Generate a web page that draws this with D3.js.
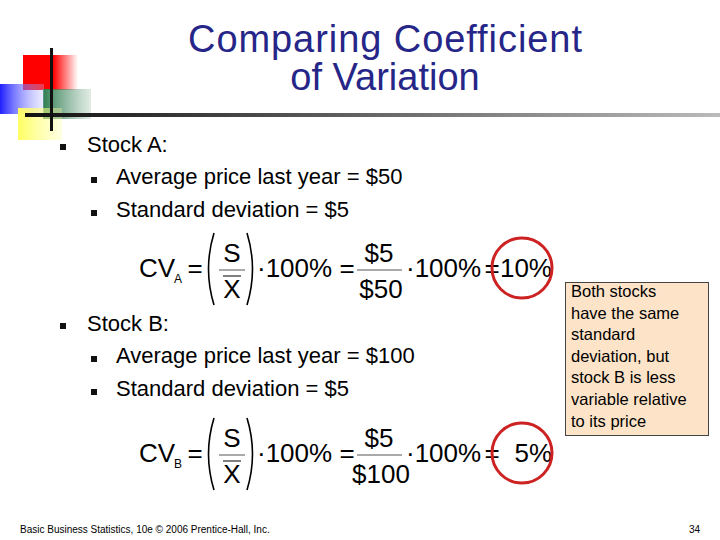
<!DOCTYPE html>
<html><head><meta charset="utf-8">
<script src="https://cdn.jsdelivr.net/npm/d3@7"></script>
<style>body{margin:0;background:#fff}svg{font-family:"Liberation Sans",Arial,sans-serif}</style>
</head><body><div id="slide"></div>
<script>
const W = 720, H = 540;
const titleLines = ["Comparing Coefficient", "of Variation"];
const stocks = ["A", "B"];
const prices = [50, 100];
const stdDevs = [5, 5];
const cvs = stocks.map((s, i) => stdDevs[i] / prices[i] * 100);
const noteLines = ["Both stocks", "have the same", "standard", "deviation, but", "stock B is less", "variable relative", "to its price"];
const footer = "Basic Business Statistics, 10e \u00a9 2006 Prentice-Hall, Inc.";
const pageNum = "34";

const svg = d3.select("#slide").append("svg").attr("width", W).attr("height", H);
const defs = svg.append("defs");
function grad(id, c1, c2, o2, off) {
  const g = defs.append("linearGradient").attr("id", id);
  g.append("stop").attr("offset", off || 0).attr("stop-color", c1);
  g.append("stop").attr("offset", "1").attr("stop-color", c2).attr("stop-opacity", o2);
}
grad("gRed", "#ff0000", "#ff0000", 0, 0.55);
grad("gBlue", "#2020ff", "#c0c0ff", 0.3);
grad("gGreen", "#2e7d50", "#6aa080", 0.2);
grad("gYel", "#ffff60", "#ffffa0", 0.3);
grad("gLine", "#111", "#bbb", 1);

// logo
const logo = svg.append("g");
logo.append("rect").attr("x", 23).attr("y", 55).attr("width", 55).attr("height", 35).attr("fill", "url(#gRed)");
logo.append("rect").attr("x", 43).attr("y", 89).attr("width", 48).attr("height", 30).attr("fill", "url(#gGreen)");
logo.append("rect").attr("x", 0).attr("y", 84).attr("width", 44).attr("height", 30).attr("fill", "url(#gBlue)");
logo.append("rect").attr("x", 18).attr("y", 108).attr("width", 44).attr("height", 32).attr("fill", "url(#gYel)");
logo.append("rect").attr("x", 25).attr("y", 113).attr("width", 695).attr("height", 4).attr("fill", "url(#gLine)");
logo.append("rect").attr("x", 50).attr("y", 48).attr("width", 3).attr("height", 83).attr("fill", "#111");

svg.selectAll(".title").data(titleLines).enter().append("text")
  .attr("x", 385).attr("y", (d, i) => 52 + i * 38).attr("text-anchor", "middle")
  .attr("font-size", 38).attr("textLength", (d, i) => i ? null : 394)
  .attr("fill", "#262688").text(d => d);

function bullet(x, y) {
  svg.append("rect").attr("x", x).attr("y", y - 6).attr("width", 6).attr("height", 6).attr("fill", "#111");
}
const tx = (x, y, s, size, anchor) => svg.append("text").attr("x", x).attr("y", y)
  .attr("font-size", size).attr("text-anchor", anchor || "start").attr("fill", "#000").text(s);

function paren(x, y0, y1, dir) {
  const m = (y0 + y1) / 2;
  svg.append("path").attr("d", `M${x},${y0} Q${x - dir * 11},${m} ${x},${y1}`)
    .attr("fill", "none").attr("stroke", "#000").attr("stroke-width", 1.6);
}

function formula(i, by) {
  const fs = 26;
  tx(139, by, "CV", fs);
  tx(174, by + 6, stocks[i], 12);
  tx(195, by, "=", fs, "middle");
  paren(214, by - 44, by + 28, 1);
  paren(247, by - 44, by + 28, -1);
  tx(232, by - 15, "S", fs, "middle");
  svg.append("line").attr("x1", 219).attr("x2", 245).attr("y1", by - 7).attr("y2", by - 7).attr("stroke", "#555");
  svg.append("line").attr("x1", 223).attr("x2", 241).attr("y1", by - 1).attr("y2", by - 1).attr("stroke", "#000");
  tx(232, by + 21, "X", fs, "middle");
  tx(257, by, "\u00b7100%", fs);
  tx(347, by, "=", fs, "middle");
  tx(379, by - 15, "$" + stdDevs[i], fs, "middle");
  svg.append("line").attr("x1", 357).attr("x2", 402).attr("y1", by - 7).attr("y2", by - 7).attr("stroke", "#555");
  tx(381, by + 21, "$" + prices[i], fs, "middle");
  tx(406, by, "\u00b7100%", fs);
  tx(492, by, "=", fs, "middle");
  tx(552, by, d3.format("d")(cvs[i]) + "%", fs, "end");
  svg.append("circle").attr("cx", 522).attr("cy", by - 9).attr("r", 30)
    .attr("fill", "none").attr("stroke", "#cc2222").attr("stroke-width", 3);
}

const blockY = [152, 331];
const formY = [277, 462];
stocks.forEach((s, i) => {
  const y = blockY[i];
  bullet(60, y - 2);
  tx(87, y, "Stock " + s + ":", 22);
  bullet(91, y + 31);
  tx(116, y + 32, "Average price last year = $" + prices[i], 22);
  bullet(91, y + 64);
  tx(116, y + 65, "Standard deviation = $" + stdDevs[i], 22);
  formula(i, formY[i]);
});

svg.append("rect").attr("x", 565.5).attr("y", 282.5).attr("width", 143).attr("height", 153)
  .attr("fill", "#fde4c8").attr("stroke", "#444");
svg.selectAll(".note").data(noteLines).enter().append("text")
  .attr("x", 571).attr("y", (d, i) => 297 + i * 21.6).attr("font-size", 16.5).text(d => d);

tx(20, 533, footer, 10);
tx(700, 533, pageNum, 10, "end");
</script></body></html>
